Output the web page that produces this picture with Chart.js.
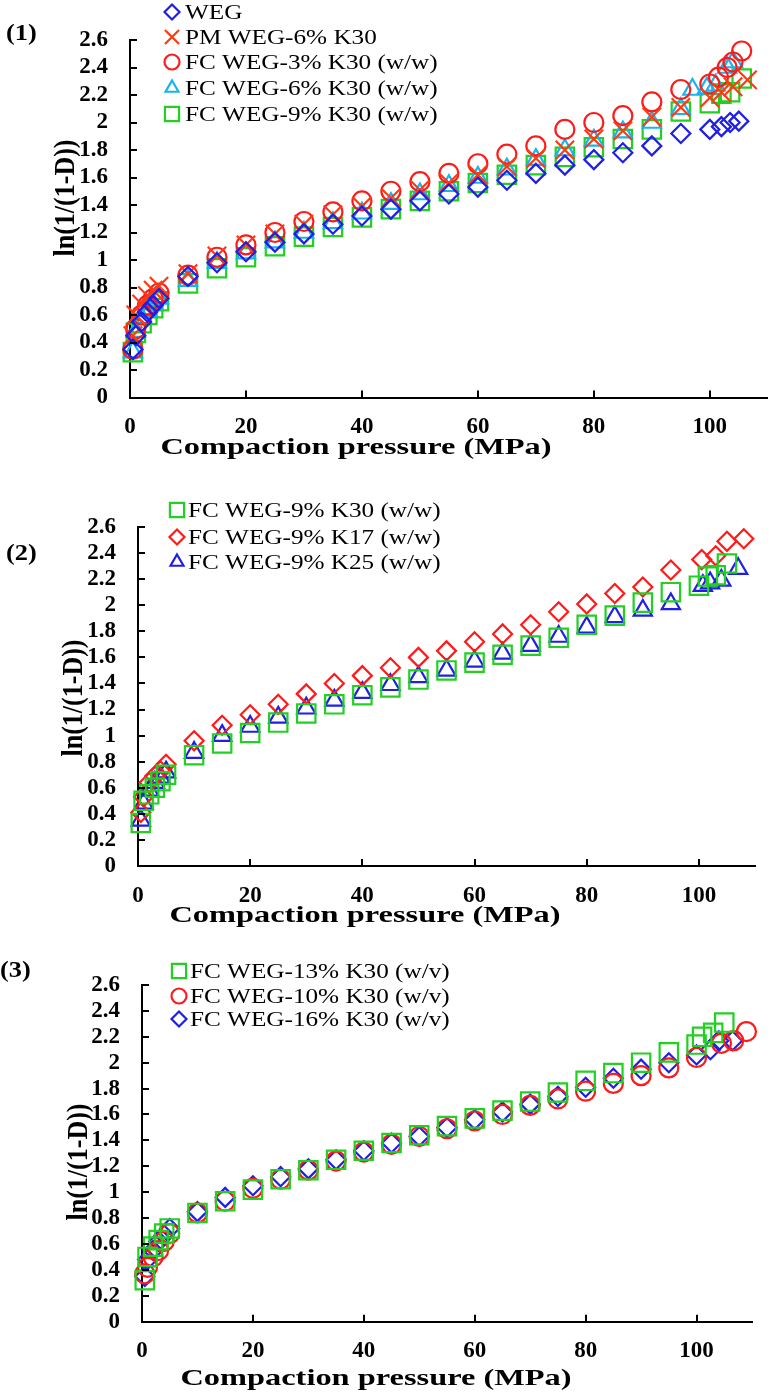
<!DOCTYPE html>
<html><head><meta charset="utf-8">
<script src="https://cdn.jsdelivr.net/npm/chart.js@4/dist/chart.umd.min.js"></script>
<style>
html,body{margin:0;padding:0;background:#fff;width:783px;height:1394px;overflow:hidden}
canvas{position:absolute;left:0}
</style></head><body>
<canvas id="c1" width="783" height="460" style="top:0px;width:783px;height:460px"></canvas>
<canvas id="c2" width="783" height="470" style="top:460px;width:783px;height:470px"></canvas>
<canvas id="c3" width="783" height="464" style="top:930px;width:783px;height:464px"></canvas>
<script>
// ---------- Tick labels ----------
const xTickValues = [0, 20, 40, 60, 80, 100];
const yTickValues = [0, 0.2, 0.4, 0.6, 0.8, 1, 1.2, 1.4, 1.6, 1.8, 2, 2.2, 2.4, 2.6];
const xTitle = "Compaction pressure (MPa)";
const yTitle = "ln(1/(1-D))";

// ---------- Panel (1) ----------
const c1Labels = ["WEG", "PM WEG-6% K30", "FC WEG-3% K30 (w/w)", "FC WEG-6% K30 (w/w)", "FC WEG-9% K30 (w/w)"];
const c1WegP = [0.5,1,2,3,4,5,10,15,20,25,30,35,40,45,50,55,60,65,70,75,80,85,90,95,100,102,103.5,105];
const c1WegY = [0.35,0.45,0.55,0.62,0.67,0.72,0.88,0.98,1.06,1.13,1.19,1.26,1.32,1.37,1.43,1.48,1.53,1.58,1.63,1.69,1.73,1.78,1.83,1.92,1.95,1.97,2.0,2.01];
const c1PmP = [0.5,1,2,3,4,5,10,15,20,25,30,35,40,45,50,55,60,65,70,75,80,85,90,95,100,102,104,106.5];
const c1PmY = [0.45,0.6,0.68,0.74,0.78,0.81,0.9,1.03,1.11,1.19,1.26,1.33,1.39,1.45,1.51,1.56,1.62,1.68,1.74,1.8,1.88,1.94,2.04,2.11,2.18,2.22,2.26,2.31];
const c1Fc3P = [0.5,1,2,3,4,5,10,15,20,25,30,35,40,45,50,55,60,65,70,75,80,85,90,95,100,101.5,103,104,105.5];
const c1Fc3Y = [0.35,0.5,0.6,0.67,0.72,0.76,0.89,1.02,1.11,1.2,1.28,1.35,1.43,1.5,1.57,1.63,1.7,1.77,1.83,1.95,2.0,2.05,2.15,2.24,2.28,2.33,2.4,2.44,2.52];
const c1Fc6P = [0.5,1,2,3,4,5,10,15,20,25,30,35,40,45,50,55,60,65,70,75,80,85,90,95,97,99.5,101,103,104];
const c1Fc6Y = [0.33,0.48,0.58,0.63,0.68,0.72,0.85,0.98,1.05,1.13,1.2,1.27,1.34,1.41,1.48,1.54,1.6,1.66,1.73,1.8,1.87,1.93,2.0,2.1,2.24,2.25,2.27,2.4,2.44];
const c1Fc9P = [0.5,1,2,3,4,5,10,15,20,25,30,35,40,45,50,55,60,65,70,75,80,85,90,95,100,102,103.5,105.5];
const c1Fc9Y = [0.33,0.47,0.54,0.6,0.65,0.7,0.83,0.94,1.02,1.1,1.17,1.24,1.31,1.37,1.43,1.5,1.56,1.62,1.69,1.75,1.82,1.88,1.95,2.08,2.14,2.21,2.22,2.32];

// ---------- Panel (2) ----------
const c2Labels = ["FC WEG-9% K30 (w/w)", "FC WEG-9% K17 (w/w)", "FC WEG-9% K25 (w/w)"];
const c2K30P = [0.5,1,2,3,4,5,10,15,20,25,30,35,40,45,50,55,60,65,70,75,80,85,90,95,100,101.6,103,105];
const c2K30Y = [0.33,0.5,0.55,0.6,0.65,0.7,0.85,0.94,1.02,1.1,1.17,1.24,1.31,1.37,1.43,1.5,1.56,1.62,1.69,1.75,1.85,1.92,2.02,2.1,2.15,2.22,2.23,2.32];
const c2K17P = [0.5,1,2,3,4,5,10,15,20,25,30,35,40,45,50,55,60,65,70,75,80,85,90,95,100.5,103,105,108];
const c2K17Y = [0.41,0.53,0.64,0.69,0.73,0.78,0.96,1.08,1.16,1.24,1.32,1.4,1.46,1.52,1.6,1.65,1.72,1.78,1.85,1.95,2.01,2.09,2.14,2.27,2.35,2.38,2.49,2.51];
const c2K25P = [0.5,1,2,3,4,5,10,15,20,25,30,35,40,45,50,55,60,65,70,75,80,85,90,95,100.7,102,104,107];
const c2K25Y = [0.35,0.48,0.58,0.64,0.68,0.72,0.87,1.0,1.07,1.14,1.21,1.27,1.33,1.39,1.45,1.5,1.57,1.63,1.69,1.76,1.83,1.91,1.96,2.01,2.15,2.17,2.19,2.28];

// ---------- Panel (3) ----------
const c3Labels = ["FC WEG-13% K30 (w/v)", "FC WEG-10% K30 (w/v)", "FC WEG-16% K30 (w/v)"];
const c3K13P = [0.5,1,2,3,4,5,10,15,20,25,30,35,40,45,50,55,60,65,70,75,80,85,90,95,100,101,103,105];
const c3K13Y = [0.32,0.5,0.58,0.63,0.68,0.72,0.84,0.93,1.02,1.1,1.17,1.25,1.32,1.38,1.44,1.51,1.57,1.63,1.7,1.77,1.86,1.92,2.0,2.08,2.14,2.2,2.23,2.31];
const c3K10P = [0.5,1,2,3,4,5,10,15,20,25,30,35,40,45,50,55,60,65,70,75,80,85,90,95,100,104.5,106.7,109];
const c3K10Y = [0.37,0.42,0.5,0.55,0.62,0.68,0.84,0.93,1.03,1.1,1.17,1.24,1.31,1.37,1.43,1.49,1.55,1.6,1.67,1.72,1.78,1.84,1.9,1.96,2.04,2.15,2.17,2.24];
const c3K16P = [0.5,1,2,3,4,5,10,15,20,25,30,35,40,45,50,55,60,65,70,75,80,85,90,95,100,102.5,104,106.5];
const c3K16Y = [0.35,0.48,0.55,0.62,0.67,0.72,0.85,0.96,1.05,1.12,1.18,1.25,1.32,1.38,1.43,1.5,1.56,1.62,1.68,1.74,1.81,1.88,1.95,2.0,2.06,2.1,2.17,2.17];

// ---------- helpers ----------
const SERIF = "'Liberation Serif','Times New Roman',serif";
Chart.defaults.font.family = SERIF;
Chart.defaults.color = '#000';
const zip = (xs, ys) => xs.map((x, i) => ({x: x, y: ys[i]}));

const BLUE = '#1f1fe6', RED = '#ff1a1a', XRED = '#ff3a12', CYAN = '#19b3f0', GREEN = '#22d022';

function ds(label, px, py, color, style, r) {
  return {label: label, data: zip(px, py), borderColor: color, backgroundColor: 'rgba(0,0,0,0)',
    pointStyle: style, pointRadius: r, pointHoverRadius: r, pointBorderWidth: 2.2,
    showLine: false, clip: false};
}

function drawMarker(ctx, style, r, x, y, color) {
  ctx.save();
  ctx.strokeStyle = color; ctx.lineWidth = 2.2; ctx.beginPath();
  if (style === 'circle') { ctx.arc(x, y, r, 0, Math.PI * 2); }
  else if (style === 'rect') { const s = r * Math.SQRT1_2; ctx.rect(x - s, y - s, 2 * s, 2 * s); }
  else if (style === 'rectRot') { ctx.moveTo(x - r, y); ctx.lineTo(x, y - r); ctx.lineTo(x + r, y); ctx.lineTo(x, y + r); ctx.closePath(); }
  else if (style === 'triangle') {
    let a = 0; ctx.moveTo(x + Math.sin(a) * r, y - Math.cos(a) * r);
    a += 2 * Math.PI / 3; ctx.lineTo(x + Math.sin(a) * r, y - Math.cos(a) * r);
    a += 2 * Math.PI / 3; ctx.lineTo(x + Math.sin(a) * r, y - Math.cos(a) * r); ctx.closePath();
  } else if (style === 'crossRot') {
    const s = r * Math.SQRT1_2; ctx.moveTo(x - s, y - s); ctx.lineTo(x + s, y + s); ctx.moveTo(x - s, y + s); ctx.lineTo(x + s, y - s);
  }
  ctx.stroke(); ctx.restore();
}

function stretchedText(ctx, text, x, y, font, align, rot, sx) {
  ctx.save();
  ctx.font = font; ctx.fillStyle = '#000'; ctx.textBaseline = 'middle'; ctx.textAlign = align;
  ctx.translate(x, y);
  if (rot) { ctx.rotate(-Math.PI / 2); ctx.scale(1, sx); }
  else { ctx.scale(sx, 1); }
  ctx.fillText(text, 0, 0);
  ctx.restore();
}

const decoPlugin = {
  id: 'deco',
  afterDraw(chart, args, o) {
    const ctx = chart.ctx;
    const ca = chart.chartArea;
    const xs = chart.scales.x, ys = chart.scales.y;
    ctx.save();
    ctx.strokeStyle = '#000'; ctx.lineWidth = 2;
    xs.ticks.forEach(t => { const p = Math.round(xs.getPixelForValue(t.value)); ctx.beginPath(); ctx.moveTo(p, ca.bottom); ctx.lineTo(p, ca.bottom - 7); ctx.stroke(); });
    ys.ticks.forEach(t => { const p = Math.round(ys.getPixelForValue(t.value)); ctx.beginPath(); ctx.moveTo(ca.left, p); ctx.lineTo(ca.left + 7, p); ctx.stroke(); });
    ctx.restore();
    // legend
    chart.data.datasets.forEach((d, i) => {
      const y = o.legRows[i];
      drawMarker(ctx, d.pointStyle, d.pointStyle === 'rect' ? 10 : (d.pointStyle === 'crossRot' ? 10 : 7.5), o.legMX, y, d.borderColor);
      stretchedText(ctx, d.label, o.legTX, y + 1, "21px " + SERIF, 'left', false, 1.2);
    });
    // titles
    stretchedText(ctx, o.panel, o.panelX, o.panelY, "bold 24px " + SERIF, 'left', false, 1.1);
    stretchedText(ctx, xTitle, o.xtX, o.xtY, "bold 24px " + SERIF, 'center', false, 1.35);
    stretchedText(ctx, yTitle, o.ytX, o.ytY, "bold 26px " + SERIF, 'center', true, 1.15);
  }
};

function makeChart(id, datasets, geo, deco) {
  return new Chart(document.getElementById(id), {
    type: 'scatter',
    data: {datasets: datasets},
    plugins: [decoPlugin],
    options: {
      responsive: false, animation: false, devicePixelRatio: 1,
      layout: {padding: {left: 0, top: geo.top, right: geo.right, bottom: 0}},
      plugins: {legend: {display: false}, tooltip: {enabled: false}, deco: deco},
      scales: {
        x: {type: 'linear', min: 0, max: 110,
          afterBuildTicks: s => { s.ticks = xTickValues.map(v => ({value: v})); },
          afterFit: s => { s.height = geo.xh; },
          grid: {display: true, drawOnChartArea: false, drawTicks: false},
          border: {display: true, color: '#000', width: 2},
          ticks: {autoSkip: false, padding: 16, font: {size: 23, weight: 'bold'}, color: '#000', maxRotation: 0,
            callback: v => String(v)}},
        y: {type: 'linear', min: 0, max: 2.6,
          afterBuildTicks: s => { s.ticks = yTickValues.map(v => ({value: v})); },
          afterFit: s => { s.width = geo.yw; },
          grid: {display: true, drawOnChartArea: false, drawTicks: false},
          border: {display: true, color: '#000', width: 2},
          ticks: {autoSkip: false, padding: 22, font: {size: 23, weight: 'bold'}, color: '#000',
            callback: v => String(+v.toFixed(1))}}
      }
    }
  });
}

makeChart('c1', [
  ds(c1Labels[0], c1WegP, c1WegY, BLUE, 'rectRot', 9.5),
  ds(c1Labels[1], c1PmP, c1PmY, XRED, 'crossRot', 13),
  ds(c1Labels[2], c1Fc3P, c1Fc3Y, RED, 'circle', 9.5),
  ds(c1Labels[3], c1Fc6P, c1Fc6Y, CYAN, 'triangle', 10.5),
  ds(c1Labels[4], c1Fc9P, c1Fc9Y, GREEN, 'rect', 13)
], {top: 40, right: 4, xh: 62.5, yw: 130},
{legRows: [12, 37, 62, 88, 114], legMX: 172, legTX: 185, panel: '(1)', panelX: 6, panelY: 34,
 xtX: 356, xtY: 448, ytX: 66, ytY: 198});

makeChart('c2', [
  ds(c2Labels[0], c2K30P, c2K30Y, GREEN, 'rect', 13),
  ds(c2Labels[1], c2K17P, c2K17Y, RED, 'rectRot', 9.5),
  ds(c2Labels[2], c2K25P, c2K25Y, BLUE, 'triangle', 10.5)
], {top: 67, right: 28, xh: 64, yw: 138},
{legRows: [50, 77, 102], legMX: 177, legTX: 188, panel: '(2)', panelX: 6, panelY: 94,
 xtX: 365, xtY: 456, ytX: 74, ytY: 238});

makeChart('c3', [
  ds(c3Labels[0], c3K13P, c3K13Y, GREEN, 'rect', 13),
  ds(c3Labels[1], c3K10P, c3K10Y, RED, 'circle', 9.5),
  ds(c3Labels[2], c3K16P, c3K16Y, BLUE, 'rectRot', 9.5)
], {top: 55, right: 31, xh: 72.3, yw: 142},
{legRows: [41, 66, 89], legMX: 179, legTX: 190, panel: '(3)', panelX: 0, panelY: 41,
 xtX: 376, xtY: 449, ytX: 79, ytY: 232});
</script>
</body></html>
